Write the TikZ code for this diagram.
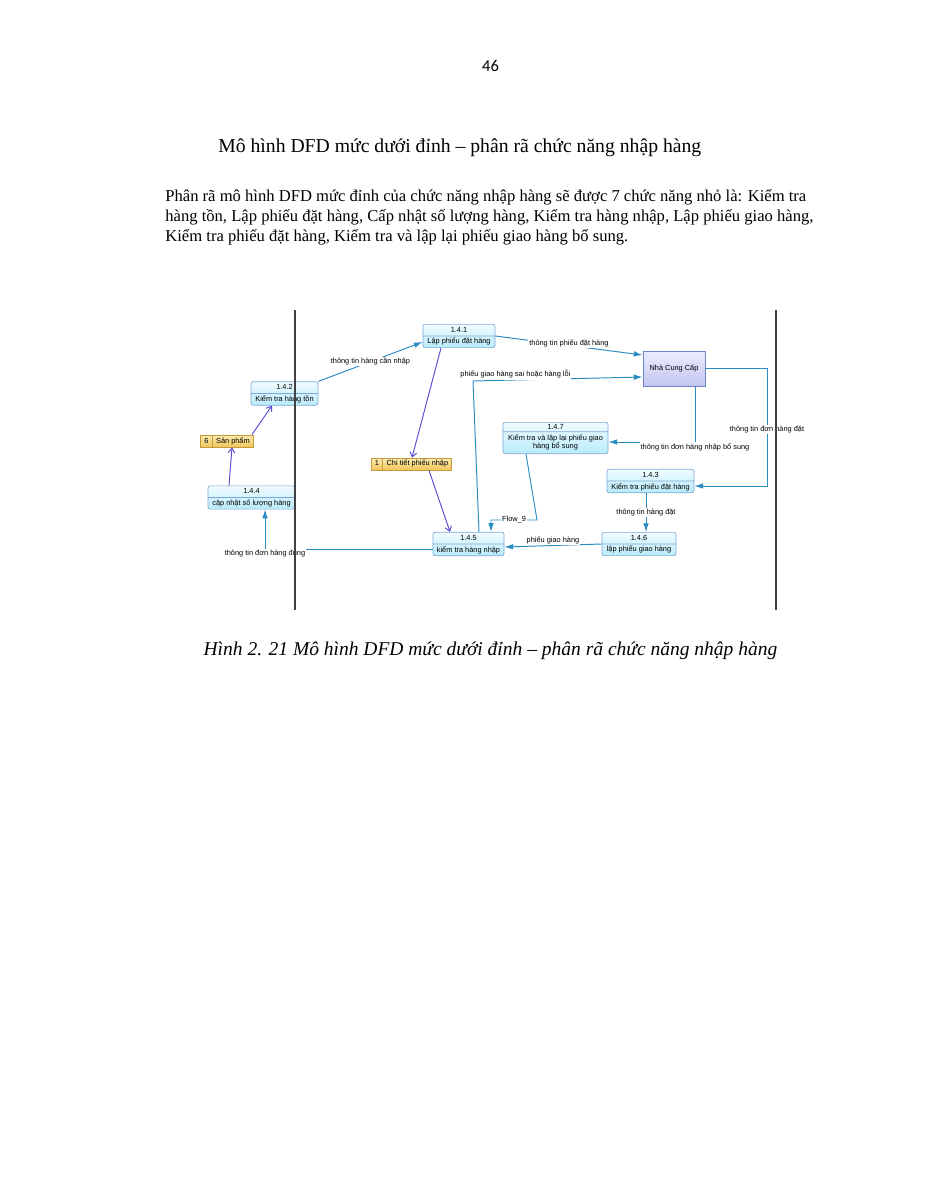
\documentclass[tikz,border=0pt]{standalone}
\usepackage{fontspec}
\setmainfont{Liberation Serif}
\newfontfamily\diagfont{Liberation Sans}
\newfontfamily\pagefont{Carlito}
\usepackage{xcolor}
\usetikzlibrary{
  arrows.meta,
  shapes.multipart,
  calc
}
\definecolor{FlowBlue}{HTML}{2B8CC4}
\definecolor{StoreViolet}{HTML}{5A50D2}
\definecolor{ProcTop}{HTML}{F0FCFF}
\definecolor{ProcBottom}{HTML}{B9EBFA}
\definecolor{ProcLine}{HTML}{7EA8DA}
\definecolor{StoreTop}{HTML}{FCEDB0}
\definecolor{StoreBottom}{HTML}{F0C55A}
\definecolor{StoreLine}{HTML}{C49A3C}
\definecolor{VendorTop}{HTML}{ECECFF}
\definecolor{VendorBottom}{HTML}{C2C5F0}
\definecolor{VendorLine}{HTML}{6A84C6}
\tikzset{
  process/.style={
    rectangle split,
    rectangle split parts=2,
    draw=ProcLine,
    top color=ProcTop,
    bottom color=ProcBottom,
    rounded corners=1.2pt,
    line width=0.4pt,
    font=\diagfont\fontsize{4.2}{5}\selectfont,
    text height=3.2pt,
    text depth=1pt,
    inner ysep=1.03pt,
    inner xsep=1pt
  },
  store/.style={
    rectangle split,
    rectangle split horizontal,
    rectangle split parts=2,
    rectangle split part align=base,
    draw=StoreLine,
    top color=StoreTop,
    bottom color=StoreBottom,
    line width=0.4pt,
    font=\diagfont\fontsize{4.2}{5}\selectfont,
    text height=3.2pt,
    text depth=1pt,
    inner ysep=1.3pt,
    inner xsep=2pt
  },
  vendor/.style={
    draw=VendorLine,
    top color=VendorTop,
    bottom color=VendorBottom,
    line width=0.5pt,
    minimum width=35.3pt,
    minimum height=19.9pt,
    inner sep=0pt,
    font=\diagfont\fontsize{4.2}{5}\selectfont
  },
  flowlabel/.style={
    font=\diagfont\fontsize{4.2}{5}\selectfont,
    fill=white,
    inner sep=0.6pt
  },
  flow/.style={
    draw=FlowBlue,
    line width=0.55pt,
    -{Latex[length=5pt,width=3.2pt]}
  },
  access/.style={
    draw=StoreViolet,
    line width=0.55pt,
    -{Straight Barb[length=2.6pt,width=3.8pt]}
  },
  swimline/.style={
    draw=black!75,
    line width=0.6pt
  }
}
\begin{document}
\begin{tikzpicture}[x=0.02cm,y=-0.02cm]

  \fill[white] (0,0) rectangle (927,1200);
  \useasboundingbox (0,0) rectangle (927,1200);

  % page text
  \node[anchor=base, font=\pagefont\fontsize{9.4}{11}\selectfont] (pageno) at (490.5,71.5) {46};
  \node[anchor=base west, inner sep=0pt, font=\fontsize{11.2}{13}\selectfont] (title) at (218,152) {Mô hình DFD mức dưới đỉnh – phân rã chức năng nhập hàng};
  \node[anchor=base west, inner sep=0pt, font=\fontsize{9.45}{11}\selectfont] (introa) at (165,201.5) {Phân rã mô hình DFD mức đỉnh của chức năng nhập hàng sẽ được 7 chức năng nhỏ là: Kiểm tra};
  \node[anchor=base west, inner sep=0pt, font=\fontsize{9.45}{11}\selectfont] (introb) at (165,221.5) {hàng tồn, Lập phiếu đặt hàng, Cấp nhật số lượng hàng, Kiểm tra hàng nhập, Lập phiếu giao hàng,};
  \node[anchor=base west, inner sep=0pt, font=\fontsize{9.45}{11}\selectfont] (introc) at (165,241.5) {Kiểm tra phiếu đặt hàng, Kiểm tra và lập lại phiếu giao hàng bổ sung.};

  % processes, stores, vendor
  \node[process, minimum width=41pt] (p141) at (459,336) {1.4.1 \nodepart{two} Lập phiếu đặt hàng};
  \node[process, minimum width=38.1pt] (p142) at (284.5,393.5) {1.4.2 \nodepart{two} Kiểm tra hàng tồn};
  \node[process, minimum width=49.5pt] (p144) at (251.5,497.5) {1.4.4 \nodepart{two} cập nhật số lượng hàng};
  \node[process, minimum width=40.4pt] (p145) at (468.5,544) {1.4.5 \nodepart{two} kiểm tra hàng nhập};
  \node[process, minimum width=42.1pt] (p146) at (639,544) {1.4.6 \nodepart{two} lập phiếu giao hàng};
  \node[process, minimum width=49.5pt] (p143) at (650.5,481) {1.4.3 \nodepart{two} Kiểm tra phiếu đặt hàng};
  \node[process, minimum width=59.8pt, text height={}, text depth={}] (p147) at (555.5,438) {1.4.7 \nodepart{two} \begin{tabular}{@{}c@{}}Kiểm tra và lập lại phiếu giao\\hàng bổ sung\end{tabular}};
  \node[vendor] (ncc) at (674,368.5) {Nhà Cung Cấp};
  \node[store] (sanpham) at (227,441) {6 \nodepart{two} Sản phẩm};
  \node[store] (ctpn) at (411.5,464) {1 \nodepart{two} Chi tiết phiếu nhập};

  % data flows
  \draw[flow] (p142.north east) -- node[flowlabel] {thông tin hàng cần nhập} (p141.west |- 0,342);
  \draw[flow] (p141.east) -- node[flowlabel, yshift=1pt] {thông tin phiếu đặt hàng} (ncc.west |- 0,355);
  \draw[flow] (p145.north -| 479,0) -- (473,381) -- node[flowlabel, above, pos=0.25] {phiếu giao hàng sai hoặc hàng lỗi} (ncc.west |- 0,377);
  \draw[flow] (ncc.south -| 695,0) |- node[flowlabel, below, pos=0.5] {thông tin đơn hàng nhập bổ sung} (p147.east |- 0,442);
  \draw[flow] (ncc.east) -- (ncc.east -| 767,0) |- node[flowlabel, pos=0.26] {thông tin đơn hàng đặt} (p143.east |- 0,486);
  \draw[flow] (p143.south -| 646,0) -- node[flowlabel] {thông tin hàng đặt} (p146.north -| 646,0);
  \draw[flow] (p146.west) -- node[flowlabel, above] {phiếu giao hàng} (p145.east |- 0,547);
  \draw[flow] (p147.south -| 526,0) -- (537,520) -| node[flowlabel, pos=0.25] {Flow\_9} (p145.north -| 491,0);
  \draw[flow] (p145.west |- 0,549) -| node[flowlabel, below, pos=0.5] {thông tin đơn hàng đúng} (p144.south -| 265,0);

  % store access
  \draw[access] (p141.south -| 441,0) -- (ctpn.north -| 412,0);
  \draw[access] (ctpn.south -| 429,0) -- (p145.north -| 450,0);
  \draw[access] (p144.north -| 229,0) -- (sanpham.south -| 232,0);
  \draw[access] (sanpham.north -| 252,0) -- (p142.south -| 272,0);

  % boundaries
  \draw[swimline] (295,310) -- (295,610);
  \draw[swimline] (776,310) -- (776,610);

  \node[anchor=base, inner sep=0pt, font=\itshape\fontsize{11.1}{13}\selectfont] (caption) at (490.5,655) {Hình 2. 21 Mô hình DFD mức dưới đỉnh – phân rã chức năng nhập hàng};

\end{tikzpicture}
\end{document}
